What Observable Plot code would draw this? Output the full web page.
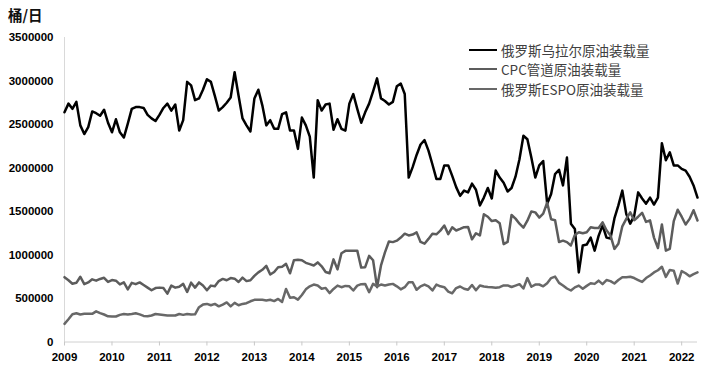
<!DOCTYPE html>
<html>
<head>
<meta charset="utf-8">
<script src="https://cdn.jsdelivr.net/npm/d3@7"></script>
<script src="https://cdn.jsdelivr.net/npm/@observablehq/plot@0.6"></script>
<style>
  html, body { margin: 0; padding: 0; background: #fff; }
  #wrap { position: relative; width: 712px; height: 374px; overflow: hidden; }
  #chart { position: absolute; left: 0; top: 0; }
  #title { position: absolute; left: 8px; top: 6px; font: bold 14.5px "Noto Sans CJK SC", sans-serif; color: #111; line-height: 18px; }
  #legend { position: absolute; left: 469px; top: 40px; font: 13.5px "Noto Sans CJK SC", sans-serif; color: #404040; }
  .row { display: flex; align-items: center; height: 19.5px; white-space: nowrap; }
  .sw { display: inline-block; width: 28px; height: 0; border-top: 2.5px solid; margin-right: 4px; }
</style>
</head>
<body>
<div id="wrap">
  <div id="chart"></div>
  <div id="title">桶/日</div>
  <div id="legend"></div>
</div>
<script>
// Monthly data, Jan 2009 – May 2022, thousand barrels per day
const seriesNames = ["俄罗斯乌拉尔原油装载量", "CPC管道原油装载量", "俄罗斯ESPO原油装载量"];
const seriesColors = ["#000000", "#5c5c5c", "#686868"];
const yearLabels = ["2009","2010","2011","2012","2013","2014","2015","2016","2017","2018","2019","2020","2021","2022"];
const yTicks = [0, 500, 1000, 1500, 2000, 2500, 3000, 3500];
const yTickLabels = ["0","500000","1000000","1500000","2000000","2500000","3000000","3500000"];

const urals = [
  2640,2740,2680,2760,2490,2390,2470,2650,2630,2600,2670,2520,
  2410,2560,2410,2350,2510,2680,2700,2700,2690,2610,2570,2540,
  2610,2690,2740,2660,2730,2430,2550,2990,2950,2780,2800,2900,
  3020,2990,2830,2660,2700,2750,2810,3100,2830,2570,2490,2420,
  2800,2900,2720,2490,2550,2450,2450,2620,2640,2430,2430,2220,
  2580,2490,2360,1890,2780,2660,2730,2740,2440,2560,2450,2430,
  2740,2850,2680,2520,2640,2740,2880,3030,2800,2770,2730,2760,
  2940,2970,2850,1890,2010,2150,2270,2320,2200,2040,1875,1875,
  2030,2030,1910,1780,1680,1740,1720,1820,1750,1570,1660,1770,
  1650,1970,1890,1830,1730,1770,1900,2100,2370,2330,2120,1890,
  2030,2080,1590,1700,1930,1980,1800,2120,1360,1300,800,1110,
  1120,1200,1050,1220,1340,1200,1190,1420,1570,1740,1470,1360,
  1450,1720,1650,1590,1660,1580,1660,2285,2090,2180,2030,2030,
  1990,1970,1900,1800,1660
];
const cpc = [
  745,710,670,680,750,665,685,720,705,725,738,690,
  712,705,662,685,605,680,665,685,655,625,595,620,
  625,620,556,648,625,636,668,575,682,625,685,650,
  595,648,640,700,725,710,735,728,690,740,700,710,
  760,800,830,875,775,805,860,866,898,790,940,945,
  940,910,895,880,915,870,805,790,950,835,1020,1048,
  1050,1050,1050,855,860,990,940,630,880,1030,1155,1148,
  1165,1200,1245,1225,1235,1260,1150,1130,1185,1245,1238,1280,
  1338,1240,1318,1282,1300,1320,1322,1180,1250,1225,1468,1440,
  1390,1400,1366,1125,1150,1460,1418,1360,1315,1395,1500,1490,
  1430,1475,1600,1410,1400,1150,1165,1148,1110,1230,1262,1250,
  1262,1318,1310,1310,1375,1285,1225,1070,1130,1330,1415,1490,
  1400,1440,1485,1380,1398,1200,1080,1350,1050,1070,1390,1520,
  1440,1350,1415,1515,1397
];
const espo = [
  209,262,320,330,316,324,324,324,352,332,316,295,
  293,293,312,322,316,322,330,318,300,295,305,322,
  316,310,305,305,305,322,312,322,315,318,400,430,
  438,422,438,410,430,455,410,450,422,438,446,468,
  485,485,485,478,485,470,495,460,610,508,515,487,
  540,605,640,660,650,612,622,562,610,648,630,645,
  640,592,648,665,668,572,668,640,660,650,660,668,
  640,605,630,687,687,600,640,660,638,592,660,640,
  630,580,560,620,638,612,600,655,595,650,638,632,
  628,623,630,650,650,632,648,665,615,735,635,660,
  661,640,675,735,752,680,650,615,592,628,648,612,
  645,675,668,705,665,712,700,672,712,745,745,750,
  735,712,690,735,765,800,825,865,748,828,820,672,
  815,790,755,780,800
];

const seriesData = [urals, cpc, espo];
const yearTicks = yearLabels.map((_, i) => i * 12);

const lineMarks = seriesData.map((arr, k) =>
  Plot.line(arr, {x: (d, i) => i, y: d => d, stroke: seriesColors[k], strokeWidth: 2.5, strokeLinejoin: "round"})
);

const chart = Plot.plot({
  width: 712,
  height: 374,
  marginTop: 37,
  marginBottom: 32.5,
  marginLeft: 64,
  marginRight: 15,
  style: {fontFamily: "'Liberation Sans', Arial, sans-serif", background: "#fff"},
  x: {domain: [0, urals.length - 1]},
  y: {domain: [0, 3500]},
  marks: [
    Plot.ruleX([0], {stroke: "#d9d9d9", strokeWidth: 1}),
    Plot.ruleY([0], {stroke: "#d0d0d0", strokeWidth: 1}),
    Plot.axisY({ticks: yTicks, tickSize: 0, tickPadding: 11, tickFormat: d => yTickLabels[yTicks.indexOf(d)],
      fontSize: 11.5, fontWeight: "bold", fill: "#000", label: null}),
    Plot.axisX({ticks: yearTicks, tickSize: 4, tickPadding: 7, stroke: "#c8c8c8", tickFormat: d => yearLabels[yearTicks.indexOf(d)],
      fontSize: 11.5, fontWeight: "bold", fill: "#000", label: null}),
    ...lineMarks
  ]
});
document.getElementById("chart").appendChild(chart);

const legend = document.getElementById("legend");
seriesNames.forEach((name, k) => {
  const row = document.createElement("div");
  row.className = "row";
  const sw = document.createElement("span");
  sw.className = "sw";
  sw.style.borderTopColor = seriesColors[k];
  const tx = document.createElement("span");
  tx.textContent = name;
  row.appendChild(sw);
  row.appendChild(tx);
  legend.appendChild(row);
});
</script>
</body>
</html>
